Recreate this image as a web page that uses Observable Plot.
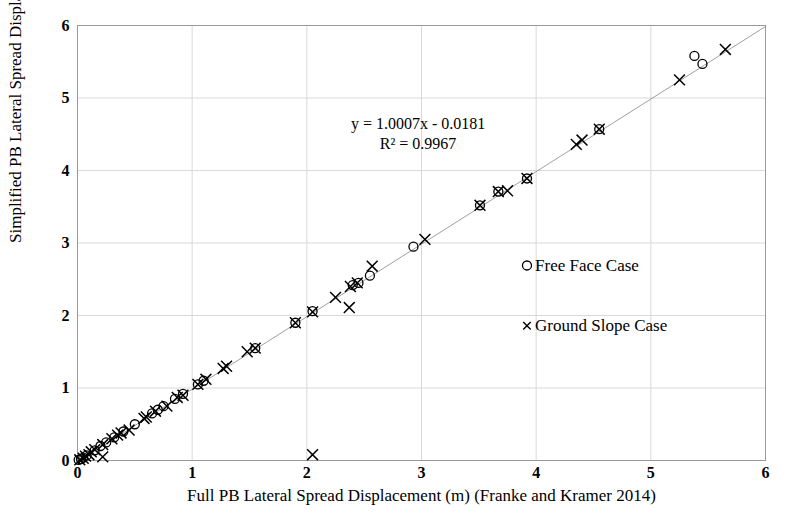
<!DOCTYPE html>
<html><head><meta charset="utf-8">
<script src="https://cdn.jsdelivr.net/npm/d3@7"></script>
<script src="https://cdn.jsdelivr.net/npm/@observablehq/plot@0.6"></script>
<style>body{margin:0;background:#fff}</style>
</head><body><div id="c"></div>
<script>
const freeFace = [[5.38,5.58],[5.45,5.47],[4.55,4.57],[3.92,3.89],[3.67,3.71],[3.51,3.52],[2.93,2.95],[2.55,2.55],[2.45,2.45],[2.40,2.42],[2.05,2.06],[1.90,1.90],[1.55,1.55],[1.10,1.10],[1.05,1.05],[0.92,0.92],[0.85,0.85],[0.75,0.75],[0.70,0.70],[0.65,0.65],[0.50,0.50],[0.40,0.40],[0.32,0.32],[0.25,0.25],[0.20,0.20],[0.15,0.14],[0.08,0.07],[0.05,0.04],[0.03,0.02],[0.01,0.01]];
const groundSlope = [[5.65,5.67],[5.25,5.25],[4.40,4.42],[4.35,4.36],[4.55,4.57],[3.92,3.89],[3.75,3.72],[3.67,3.71],[3.51,3.52],[3.03,3.05],[2.57,2.68],[2.38,2.40],[2.37,2.11],[2.25,2.25],[2.44,2.45],[2.05,2.05],[2.05,0.08],[1.90,1.90],[1.55,1.55],[1.48,1.50],[1.30,1.30],[1.27,1.27],[1.12,1.12],[1.05,1.05],[0.92,0.90],[0.87,0.87],[0.78,0.75],[0.68,0.68],[0.60,0.60],[0.58,0.58],[0.45,0.42],[0.38,0.38],[0.35,0.35],[0.30,0.30],[0.22,0.22],[0.15,0.15],[0.12,0.12],[0.10,0.08],[0.07,0.06],[0.05,0.03],[0.02,0.01],[0.22,0.05]];
const slope = 1.0007, intercept = -0.0181;
const ticks = [0,1,2,3,4,5,6];
const font = "Liberation Serif";
const fit = [0,6].map(x => [x, slope*x+intercept]);
const chart = Plot.plot({
  width:788, height:525, marginLeft:77, marginRight:23, marginTop:25, marginBottom:65,
  style:{fontFamily:font, fontSize:"16px", color:"#000", background:"#fff"},
  x:{domain:[0,6], axis:null},
  y:{domain:[0,6], axis:null},
  marks:[
    Plot.gridX(ticks,{stroke:"#d9d9d9", strokeOpacity:1}),
    Plot.gridY(ticks,{stroke:"#d9d9d9", strokeOpacity:1}),
    Plot.frame({stroke:"#999"}),
    Plot.axisX(ticks,{tickSize:0, fontWeight:"bold", fontSize:16, tickPadding:6, tickFormat:d3.format("d"), label:null}),
    Plot.axisY(ticks,{tickSize:0, fontWeight:"bold", fontSize:16, tickPadding:8, tickFormat:d3.format("d"), label:null}),
    Plot.text(["Full PB Lateral Spread Displacement (m) (Franke and Kramer 2014)"],{frameAnchor:"bottom", dy:40, fontSize:17}),
    Plot.text(["Simplified PB Lateral Spread Displacement (m)"],{frameAnchor:"left", dx:-62, rotate:-90, fontSize:17}),
    Plot.line(fit,{x:d=>d[0], y:d=>d[1], stroke:"#888", strokeWidth:0.8}),
    Plot.dot(freeFace,{x:d=>d[0], y:d=>d[1], r:4.5, stroke:"#000", strokeWidth:1.3, fill:"none"}),
    Plot.dot(groundSlope,{x:d=>d[0], y:d=>d[1], symbol:"times", r:5, stroke:"#000", strokeWidth:1.5}),
    Plot.text([`y = ${slope}x - ${-intercept}`, "R² = 0.9967"],{x:2.97, y:(d,i)=>[4.65,4.37][i], text:d=>d, fontSize:16}),
    Plot.dot([[3.92,2.69]],{x:d=>d[0], y:d=>d[1], r:4.5, stroke:"#000", strokeWidth:1.3, fill:"none"}),
    Plot.dot([[3.92,1.86]],{x:d=>d[0], y:d=>d[1], symbol:"times", r:3.5, stroke:"#000", strokeWidth:1.4}),
    Plot.text(["Free Face Case","Ground Slope Case"],{x:3.99, y:(d,i)=>[2.69,1.86][i], text:d=>d, textAnchor:"start", fontSize:17})
  ]
});
document.getElementById("c").append(chart);
</script></body></html>
